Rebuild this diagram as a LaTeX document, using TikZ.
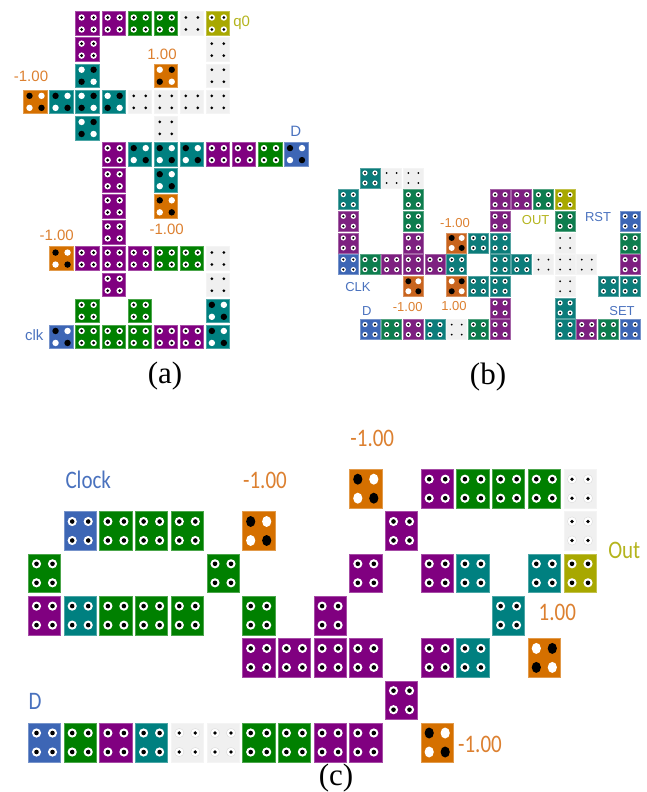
\documentclass[tikz,border=0pt]{standalone}
\usepackage{fontspec}
\newfontfamily\lblfont{Liberation Sans}
\newfontfamily\capfont{Liberation Serif}
\newfontfamily\wordfont{Carlito}
\definecolor{qP}{HTML}{800080}
\definecolor{qG}{HTML}{008000}
\definecolor{qT}{HTML}{008080}
\definecolor{qO}{HTML}{D57000}
\definecolor{qB}{HTML}{3D66B5}
\definecolor{qY}{HTML}{A8A800}
\definecolor{qW}{HTML}{F0F0F0}
\definecolor{lblB}{HTML}{4A72BE}
\definecolor{lblO}{HTML}{DC8030}
\definecolor{lblY}{HTML}{B4B41E}
\tikzset{
  qcell/.style={draw=#1!70!white,fill=#1,line width=.6pt,inner sep=0pt,outer sep=0pt,
    minimum width=\cellw pt,minimum height=\cellh pt},
  nullring/.style={fill=qW},
  lbl/.style={inner sep=0pt,text=#1},
  small/.style={font=\lblfont\fontsize{15}{15}\selectfont},
  tiny/.style={font=\lblfont\fontsize{13}{13}\selectfont},
  word/.style={font=\wordfont\fontsize{21}{21}\selectfont,transform shape,yscale=1.2},
  caption/.style={inner sep=0pt,font=\capfont\fontsize{31}{31}\selectfont}
}
% the four dot patterns of a cell
\newcommand{\qdotsn}[1]{\foreach \sx in {-1,1} \foreach \sy in {-1,1} {
  \fill[white] ([shift={(\sx*\dotx,\sy*\doty)}]#1.center) circle (\ringr pt);
  \fill[black] ([shift={(\sx*\dotx,\sy*\doty)}]#1.center) circle (\corer pt);}}
\newcommand{\qdotsw}[1]{\foreach \sx in {-1,1} \foreach \sy in {-1,1} {
  \path[nullring] ([shift={(\sx*\dotx,\sy*\doty)}]#1.center) circle (\ringr pt);
  \fill[black] ([shift={(\sx*\dotx,\sy*\doty)}]#1.center) circle (\nullr pt);}}
\newcommand{\qpair}[3]{\foreach \sx/\sy in {#2} {
  \fill[#3] ([shift={(\sx*\dotx,\sy*\doty)}]#1.center) ellipse [x radius=\polx pt,y radius=\poly pt];}}
\newcommand{\qdotsa}[1]{\qpair{#1}{-1/-1,1/1}{black}\qpair{#1}{-1/1,1/-1}{white}}
\newcommand{\qdotsb}[1]{\qpair{#1}{-1/-1,1/1}{white}\qpair{#1}{-1/1,1/-1}{black}}
\newcommand{\qcells}[2]{\foreach \row/\rowlist in {#2} \foreach \col/\tint/\pol in \rowlist {
  \node[qcell=q\tint] (#1-\col-\row) at (\xo+\col*\xp,\yo+\row*\yp) {};
  \csname qdots\pol\endcsname{#1-\col-\row}}}
\begin{document}
\begin{tikzpicture}[x=1pt,y=-1pt]
\useasboundingbox (0,0) rectangle (646,792);
% (a)
\begin{scope}
\def\xo{35.5}\def\yo{23.5}\def\xp{26.05}\def\yp{26.12}
\def\cellw{23.7}\def\cellh{23.7}\def\dotx{6}\def\doty{6}
\def\ringr{3.2}\def\corer{1.6}\def\nullr{1.5}\def\polx{3.2}\def\poly{3.2}
\qcells{a}{0/{2/P/n,3/P/n,4/G/n,5/G/n,6/W/w,7/Y/n},
  1/{2/P/n,7/W/w},
  2/{2/T/b,5/O/b,7/W/w},
  3/{0/O/a,1/T/a,2/T/b,3/T/b,4/W/w,5/W/w,6/W/w,7/W/w},
  4/{2/T/b,5/W/w},
  5/{3/P/n,4/T/a,5/T/a,6/T/a,7/P/n,8/P/n,9/G/n,10/B/a},
  6/{3/P/n,5/T/a},
  7/{3/P/n,5/O/a},
  8/{3/P/n},
  9/{1/O/a,2/P/n,3/P/n,4/P/n,5/G/n,6/G/n,7/W/w},
  10/{3/P/n,7/W/w},
  11/{2/G/n,4/G/n,7/T/a},
  12/{1/B/a,2/G/n,3/G/n,4/G/n,5/P/n,6/P/n,7/T/a}}
\end{scope}
\node[lbl=lblY,small] (aq) at (241.7,22.5) {q0};
\node[lbl=lblO,small] (aone) at (162,54) {1.00};
\node[lbl=lblO,small] (ainA) at (31,76.5) {-1.00};
\node[lbl=lblB,small] (ad) at (295.7,131) {D};
\node[lbl=lblO,small] (ainB) at (166.7,229.5) {-1.00};
\node[lbl=lblO,small] (ainC) at (56.7,235) {-1.00};
\node[lbl=lblB,small] (aclk) at (34.3,335.5) {clk};
\node[caption] (capa) at (165,376) {(a)};
% (b)
\begin{scope}
\definecolor{qG}{HTML}{0E7D4E}\definecolor{qP}{HTML}{7D2080}\definecolor{qT}{HTML}{0C7C7A}
\definecolor{qO}{HTML}{C8641E}
\def\xo{348.3}\def\yo{178}\def\xp{21.68}\def\yp{21.65}
\def\cellw{20}\def\cellh{20}\def\dotx{5}\def\doty{5}
\def\ringr{2.6}\def\corer{1.2}\def\nullr{1}\def\polx{3}\def\poly{3}
\qcells{b}{0/{1/T/n,2/W/w,3/W/w},
  1/{0/T/n,3/G/n,7/P/n,8/P/n,9/G/n,10/Y/n},
  2/{0/P/n,3/G/n,7/P/n,10/G/n,13/B/n},
  3/{0/P/n,3/P/n,5/O/a,6/T/n,7/T/n,10/W/w,13/G/n},
  4/{0/B/n,1/G/n,2/P/n,3/P/n,4/P/n,5/T/n,7/T/n,8/T/n,9/W/w,10/W/w,11/W/w,13/P/n},
  5/{3/O/a,5/O/b,6/T/n,7/T/n,10/W/w,12/T/n,13/T/n},
  6/{7/P/n,10/T/n},
  7/{1/B/n,2/G/n,3/P/n,4/T/n,5/W/w,6/G/n,7/P/n,10/T/n,11/P/n,12/G/n,13/B/n}}
\end{scope}
\node[lbl=lblO,tiny] (binA) at (455,223) {-1.00};
\node[lbl=lblB,tiny] (bclk) at (358,287) {CLK};
\node[lbl=lblB,tiny] (bd) at (366.7,311.5) {D};
\node[lbl=lblO,tiny] (binB) at (407.7,306.7) {-1.00};
\node[lbl=lblO,tiny] (bone) at (454,305.7) {1.00};
\node[lbl=lblY,tiny] (bout) at (535.7,220) {OUT};
\node[lbl=lblB,tiny] (brst) at (598,217) {RST};
\node[lbl=lblB,tiny] (bset) at (622,310.7) {SET};
\node[caption] (capb) at (488,377) {(b)};
% (c)
\begin{scope}
\tikzset{nullring/.style={fill=white,draw=black!15,line width=.4pt}}
\def\xo{44.5}\def\yo{488.7}\def\xp{35.7}\def\yp{42.3}
\def\cellw{32.3}\def\cellh{38.7}\def\dotx{8}\def\doty{9.5}
\def\ringr{4.6}\def\corer{2.3}\def\nullr{1.9}\def\polx{4.6}\def\poly{5.5}
\qcells{c}{0/{9/O/a,11/P/n,12/G/n,13/G/n,14/G/n,15/W/w},
  1/{1/B/n,2/G/n,3/G/n,4/G/n,6/O/a,10/P/n,15/W/w},
  2/{0/G/n,5/G/n,9/P/n,11/P/n,12/T/n,14/T/n,15/Y/n},
  3/{0/P/n,1/T/n,2/G/n,3/G/n,4/G/n,6/G/n,8/P/n,13/T/n},
  4/{6/P/n,7/P/n,8/P/n,9/P/n,11/P/n,12/T/n,14/O/b},
  5/{10/P/n},
  6/{0/B/n,1/G/n,2/P/n,3/T/n,4/W/w,5/W/w,6/G/n,7/G/n,8/P/n,9/P/n,11/O/a}}
\end{scope}
\node[lbl=lblB,word] (cclock) at (88.3,480) {Clock};
\node[lbl=lblO,word] (cinA) at (265,480.5) {-1.00};
\node[lbl=lblB,word] (cd) at (35,701) {D};
\node[lbl=lblO,word] (cinB) at (372.3,438.3) {-1.00};
\node[lbl=lblY,word] (cout) at (624.3,550) {Out};
\node[lbl=lblO,word] (cone) at (557.3,612.3) {1.00};
\node[lbl=lblO,word] (cinC) at (480,744.3) {-1.00};
\node[caption] (capc) at (336,778) {(c)};
\end{tikzpicture}
\end{document}
